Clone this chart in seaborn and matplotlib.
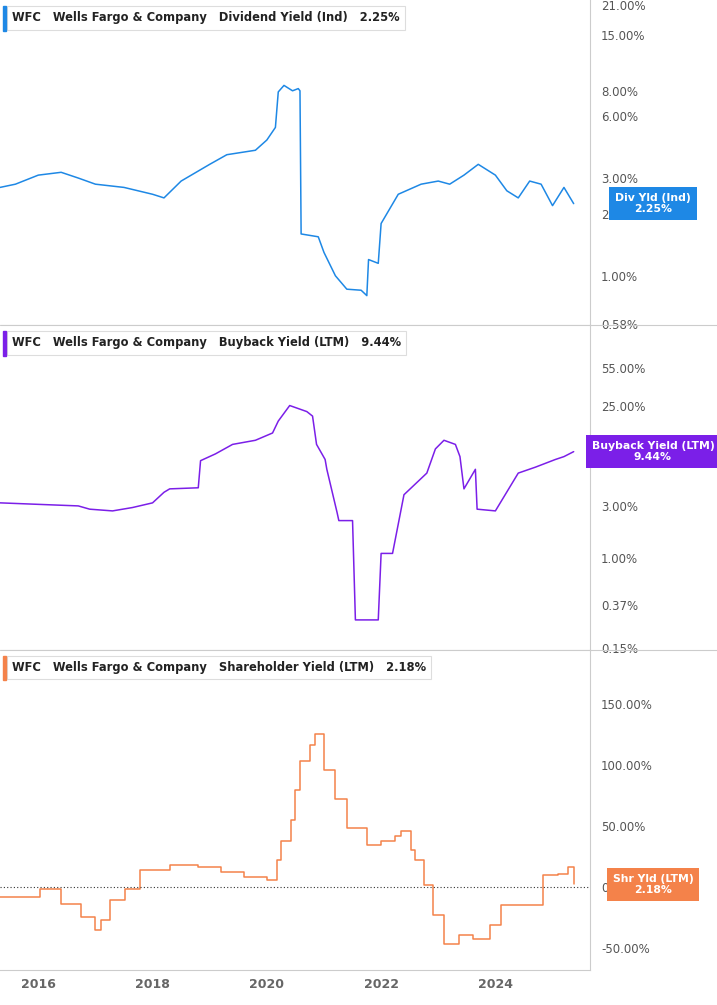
import numpy as np
import pandas as pd
import matplotlib
matplotlib.use('Agg')
from matplotlib import pyplot as plt
from matplotlib.ticker import NullLocator
import seaborn as sns

# x positions read in years
div_t = [2015.33, 2015.6, 2016.0, 2016.4, 2016.7, 2017.0, 2017.5, 2018.0, 2018.2, 2018.5, 2019.0, 2019.3, 2019.8, 2020.0, 2020.15,
         2020.2, 2020.3, 2020.45, 2020.55, 2020.58, 2020.6, 2020.9, 2021.0, 2021.2, 2021.4, 2021.65, 2021.75, 2021.78, 2021.95,
         2022.0, 2022.3, 2022.7, 2023.0, 2023.2, 2023.45, 2023.7, 2024.0, 2024.2, 2024.4, 2024.6, 2024.8, 2025.0, 2025.2, 2025.37]
div_v = [2.7, 2.8, 3.1, 3.2, 3.0, 2.8, 2.7, 2.5, 2.4, 2.9, 3.5, 3.9, 4.1, 4.6, 5.3,
         7.9, 8.5, 8.0, 8.2, 8.0, 1.6, 1.55, 1.3, 1.0, 0.86, 0.85, 0.8, 1.2, 1.15,
         1.8, 2.5, 2.8, 2.9, 2.8, 3.1, 3.5, 3.1, 2.6, 2.4, 2.9, 2.8, 2.2, 2.7, 2.25]

bb_t = [2015.33, 2016.7, 2016.9, 2017.3, 2017.65, 2018.0, 2018.2, 2018.3, 2018.8, 2018.84, 2019.1, 2019.4, 2019.8, 2020.1,
        2020.2, 2020.4, 2020.7, 2020.8, 2020.87, 2021.02, 2021.05, 2021.23, 2021.26, 2021.5, 2021.55, 2021.95,
        2022.0, 2022.2, 2022.4, 2022.8, 2022.95, 2023.1, 2023.3, 2023.38, 2023.45, 2023.65, 2023.68, 2024.0, 2024.4, 2024.7, 2025.05, 2025.2, 2025.37]
bb_v = [3.2, 3.0, 2.8, 2.7, 2.9, 3.2, 4.0, 4.3, 4.4, 7.8, 9.0, 11.0, 12.0, 14.0,
        18.0, 25.0, 22.0, 20.0, 11.0, 8.0, 6.5, 2.6, 2.2, 2.2, 0.27, 0.27,
        1.1, 1.1, 3.8, 6.0, 10.0, 12.0, 11.0, 8.5, 4.3, 6.5, 2.8, 2.7, 6.0, 6.8, 8.0, 8.5, 9.44]

shr_t = [2015.33, 2016.03, 2016.4, 2016.75, 2017.0, 2017.1, 2017.26, 2017.52, 2017.78, 2018.3, 2018.8, 2019.2, 2019.6, 2020.0,
         2020.17, 2020.25, 2020.42, 2020.5, 2020.58, 2020.75, 2020.85, 2021.0, 2021.2, 2021.4, 2021.75, 2022.0, 2022.25, 2022.35,
         2022.52, 2022.6, 2022.75, 2022.9, 2023.1, 2023.37, 2023.6, 2023.9, 2024.1, 2024.28, 2024.8, 2024.84, 2025.1, 2025.27, 2025.37]
shr_v = [-8, -2, -14, -25, -35, -27, -11, -2, 14, 18, 16, 12, 8, 6,
         22, 38, 55, 79, 103, 116, 125, 96, 72, 48, 34, 38, 42, 46,
         30, 22, 2, -23, -47, -39, -43, -31, -15, -15, -15, 10, 11, 16, 2.18]

years = [2016, 2018, 2020, 2022, 2024]

x0, x1 = 2015.33, 2025.34 + (590 - 572) / 57

fig = plt.figure(figsize=(7.17, 10.05), dpi=100)
sns.set_style('white')
W = 590 / 717
ax1 = fig.add_axes([0, 1 - 325 / 1005, W, 325 / 1005])
ax2 = fig.add_axes([0, 1 - 650 / 1005, W, 325 / 1005])
ax3 = fig.add_axes([0, 1 - 970 / 1005, W, 320 / 1005])

panels = [
    (ax1, div_t, div_v, '#1e88e5', 'Dividend Yield (Ind)', '2.25%', 'Div Yld (Ind)', 2.25),
    (ax2, bb_t, bb_v, '#7b1fe8', 'Buyback Yield (LTM)', '9.44%', 'Buyback Yield (LTM)', 9.44),
    (ax3, shr_t, shr_v, '#f4824a', 'Shareholder Yield (LTM)', '2.18%', 'Shr Yld (LTM)', 2.18),
]

for ax, t, v, col, name, last, tag, lv in panels:
    df = pd.DataFrame({'t': t, 'v': v})
    kw = {'drawstyle': 'steps-post'} if ax is ax3 else {}
    sns.lineplot(data=df, x='t', y='v', ax=ax, color=col, linewidth=1.1, **kw)
    ax.set_xlim(x0, x1)
    ax.set_xlabel('')
    ax.set_ylabel('')
    for s in ['left', 'top']:
        ax.spines[s].set_visible(False)
    ax.spines['right'].set_color('#cccccc')
    ax.spines['bottom'].set_color('#cccccc')
    # legend box
    ax.text(0.02, 0.965, 'WFC   Wells Fargo & Company   ' + name + '   ' + last,
            transform=ax.transAxes, fontsize=8.3, fontweight='bold', color='#222222', va='top', ha='left',
            bbox=dict(boxstyle='square,pad=0.45', fc='white', ec='#dddddd', lw=0.8))
    ax.add_patch(plt.Rectangle((0.005, 0.905), 0.006, 0.075, transform=ax.transAxes, color=col, clip_on=False, zorder=5))
    # right tag
    ax.annotate(tag + '\n' + last, xy=(653 / 590, lv), xycoords=('axes fraction', 'data'),
                ha='center', va='center',
                fontsize=7.8, fontweight='bold', color='white', linespacing=1.1,
                bbox=dict(boxstyle='square,pad=0.55', fc=col, ec='none'),
                annotation_clip=False, zorder=10)

ax1.set_yscale('log')
ax1.set_ylim(0.575, 22.2)
t1 = [0.58, 1, 2, 3, 6, 8, 15, 21]
ax1.set_yticks(t1)
ax1.set_yticklabels(['%.2f%%' % a for a in t1])

ax2.set_yscale('log')
ax2.set_ylim(0.143, 137)
t2 = [0.15, 0.37, 1, 3, 25, 55]
ax2.set_yticks(t2)
ax2.set_yticklabels(['%.2f%%' % a for a in t2])

ax3.set_ylim(-68, 194)
t3 = [-50, 0, 50, 100, 150]
ax3.set_yticks(t3)
ax3.set_yticklabels(['%.2f%%' % a for a in t3])
ax3.axhline(0, color='#333333', linestyle=(0, (1, 2)), linewidth=0.8, xmin=0, xmax=1.0)

for ax in (ax1, ax2, ax3):
    ax.yaxis.set_minor_locator(NullLocator())
    ax.yaxis.tick_right()
    ax.tick_params(axis='y', labelsize=8.5, colors='#555555', length=0, pad=8)
for ax in (ax1, ax2):
    ax.set_xticks([])
ax3.set_xticks(years)
ax3.set_xticklabels([str(y) for y in years], fontsize=9, fontweight='bold', color='#666666')
ax3.tick_params(axis='x', length=0, pad=6)

for yy in (325, 650):
    fig.add_artist(plt.Line2D([0, 1], [1 - yy / 1005] * 2, color='#cccccc', lw=0.8))

fig.savefig('out.png', dpi=100)
